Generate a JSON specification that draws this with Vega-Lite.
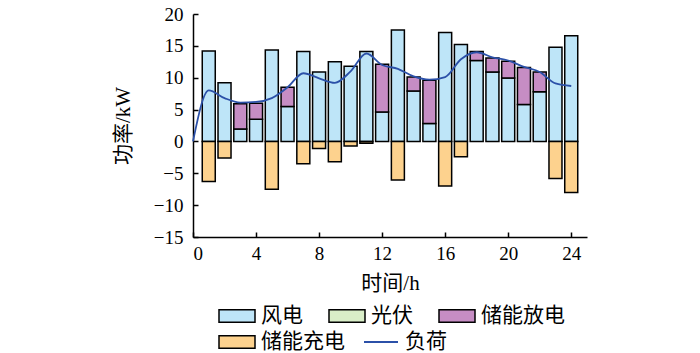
{
  "$schema": "https://vega.github.io/schema/vega-lite/v6.json",
  "autosize": "none",
  "width": 394,
  "height": 223,
  "padding": {"left": 193, "top": 14, "right": 113, "bottom": 116},
  "background": "white",
  "config": {
    "view": {"stroke": null},
    "font": "Liberation Serif, Noto Sans CJK SC",
    "axis": {
      "labelFont": "Liberation Serif",
      "labelFontSize": 19,
      "labelColor": "black",
      "labelOverlap": false,
      "titleFont": "Liberation Serif, Noto Sans CJK SC",
      "titleFontSize": 21,
      "titleFontWeight": "normal",
      "titleColor": "black",
      "domainColor": "black",
      "domainWidth": 1.5,
      "tickColor": "black",
      "tickWidth": 1.5,
      "grid": false
    },
    "legend": {
      "labelFont": "Liberation Serif, Noto Sans CJK SC",
      "labelFontSize": 21,
      "labelColor": "black",
      "title": null,
      "padding": 0,
      "labelLimit": 300
    }
  },
  "datasets": {
    "pos": [
      {"hour": 1, "type": "风电", "value": 14.2},
      {"hour": 2, "type": "风电", "value": 9.2},
      {"hour": 3, "type": "风电", "value": 1.95},
      {"hour": 3, "type": "储能放电", "value": 3.95},
      {"hour": 4, "type": "风电", "value": 3.5},
      {"hour": 4, "type": "储能放电", "value": 2.5},
      {"hour": 5, "type": "风电", "value": 14.35},
      {"hour": 6, "type": "风电", "value": 5.5},
      {"hour": 6, "type": "储能放电", "value": 3.0},
      {"hour": 7, "type": "风电", "value": 14.1},
      {"hour": 8, "type": "风电", "value": 10.9},
      {"hour": 9, "type": "风电", "value": 12.5},
      {"hour": 10, "type": "风电", "value": 11.8},
      {"hour": 11, "type": "风电", "value": 14.1},
      {"hour": 12, "type": "风电", "value": 4.6},
      {"hour": 12, "type": "储能放电", "value": 7.5},
      {"hour": 13, "type": "风电", "value": 17.5},
      {"hour": 14, "type": "风电", "value": 7.9},
      {"hour": 14, "type": "储能放电", "value": 2.2},
      {"hour": 15, "type": "风电", "value": 2.8},
      {"hour": 15, "type": "储能放电", "value": 6.8},
      {"hour": 16, "type": "风电", "value": 17.1},
      {"hour": 17, "type": "风电", "value": 15.2},
      {"hour": 18, "type": "风电", "value": 12.7},
      {"hour": 18, "type": "储能放电", "value": 1.4},
      {"hour": 19, "type": "风电", "value": 10.9},
      {"hour": 19, "type": "储能放电", "value": 2.2},
      {"hour": 20, "type": "风电", "value": 9.95},
      {"hour": 20, "type": "储能放电", "value": 2.65},
      {"hour": 21, "type": "风电", "value": 5.8},
      {"hour": 21, "type": "储能放电", "value": 5.8},
      {"hour": 22, "type": "风电", "value": 7.8},
      {"hour": 22, "type": "储能放电", "value": 3.1},
      {"hour": 23, "type": "风电", "value": 14.8},
      {"hour": 24, "type": "风电", "value": 16.6}
    ],
    "charge": [
      {"hour": 1, "type": "储能充电", "value": -6.3},
      {"hour": 2, "type": "储能充电", "value": -2.6},
      {"hour": 5, "type": "储能充电", "value": -7.5},
      {"hour": 7, "type": "储能充电", "value": -3.5},
      {"hour": 8, "type": "储能充电", "value": -1.1},
      {"hour": 9, "type": "储能充电", "value": -3.2},
      {"hour": 10, "type": "储能充电", "value": -0.7},
      {"hour": 11, "type": "储能充电", "value": -0.3},
      {"hour": 13, "type": "储能充电", "value": -6.05},
      {"hour": 16, "type": "储能充电", "value": -7.0},
      {"hour": 17, "type": "储能充电", "value": -2.4},
      {"hour": 23, "type": "储能充电", "value": -5.8},
      {"hour": 24, "type": "储能充电", "value": -8.0}
    ],
    "load": [
      {"hour": 0, "series": "负荷", "load": 0},
      {"hour": 1, "series": "负荷", "load": 8.0},
      {"hour": 2, "series": "负荷", "load": 6.8},
      {"hour": 3, "series": "负荷", "load": 6.1},
      {"hour": 4, "series": "负荷", "load": 6.2},
      {"hour": 5, "series": "负荷", "load": 6.8},
      {"hour": 6, "series": "负荷", "load": 8.5},
      {"hour": 7, "series": "负荷", "load": 10.7},
      {"hour": 8, "series": "负荷", "load": 9.9},
      {"hour": 9, "series": "负荷", "load": 9.2},
      {"hour": 10, "series": "负荷", "load": 11.0},
      {"hour": 11, "series": "负荷", "load": 13.8},
      {"hour": 12, "series": "负荷", "load": 12.0},
      {"hour": 13, "series": "负荷", "load": 11.4},
      {"hour": 14, "series": "负荷", "load": 10.2},
      {"hour": 15, "series": "负荷", "load": 9.7},
      {"hour": 16, "series": "负荷", "load": 10.1},
      {"hour": 17, "series": "负荷", "load": 12.9},
      {"hour": 18, "series": "负荷", "load": 14.0},
      {"hour": 19, "series": "负荷", "load": 13.2},
      {"hour": 20, "series": "负荷", "load": 12.7},
      {"hour": 21, "series": "负荷", "load": 11.7},
      {"hour": 22, "series": "负荷", "load": 10.9},
      {"hour": 23, "series": "负荷", "load": 9.1},
      {"hour": 24, "series": "负荷", "load": 8.7}
    ]
  },
  "layer": [
    {
      "data": {"name": "pos"},
      "transform": [
        {"calculate": "indexof(['风电','光伏','储能放电'], datum.type)", "as": "ord"}
      ],
      "mark": {"type": "bar", "width": 13, "stroke": "black", "strokeWidth": 1.5},
      "encoding": {
        "x": {
          "field": "hour", "type": "quantitative",
          "scale": {"domain": [0, 25], "nice": false, "padding": 0},
          "axis": {"values": [0, 4, 8, 12, 16, 20, 24], "tickCount": 20, "tickSize": -5, "labelPadding": 12, "title": "时间/h", "titlePadding": 9}
        },
        "y": {
          "field": "value", "type": "quantitative", "stack": true,
          "scale": {"domain": [-15, 20], "nice": false},
          "axis": {"values": [-15, -10, -5, 0, 5, 10, 15, 20], "tickCount": 20, "tickSize": -5, "labelPadding": 15, "title": "功率/kW", "titlePadding": 20}
        },
        "fill": {
          "field": "type", "type": "nominal",
          "scale": {"domain": ["风电", "光伏", "储能放电"], "range": ["#BEE5F8", "#D9EEC8", "#C68DC4"]},
          "legend": {
            "orient": "none", "legendX": 25, "legendY": 283,
            "direction": "horizontal",
            "columnPadding": 23,
            "symbolType": "M-1,-0.35L1,-0.35L1,0.35L-1,0.35Z",
            "symbolSize": 1296, "symbolStrokeColor": "black", "symbolStrokeWidth": 1.5,
            "labelOffset": 5
          }
        },
        "order": {"field": "ord"}
      }
    },
    {
      "data": {"name": "charge"},
      "mark": {"type": "bar", "width": 13, "stroke": "black", "strokeWidth": 1.5},
      "encoding": {
        "x": {"field": "hour", "type": "quantitative"},
        "y": {"field": "value", "type": "quantitative"},
        "color": {
          "field": "type", "type": "nominal",
          "scale": {"domain": ["储能充电"], "range": ["#FDD28E"]},
          "legend": {
            "orient": "none", "legendX": 25, "legendY": 309,
            "symbolType": "M-1,-0.35L1,-0.35L1,0.35L-1,0.35Z",
            "symbolSize": 1296, "symbolStrokeColor": "black", "symbolStrokeWidth": 1.5,
            "symbolFillColor": "#FDD28E",
            "labelOffset": 5
          }
        }
      }
    },
    {
      "mark": {"type": "rule", "color": "black", "strokeWidth": 1.5},
      "encoding": {"y": {"datum": 0}}
    },
    {
      "data": {"name": "load"},
      "mark": {"type": "line", "interpolate": "monotone", "strokeWidth": 1.8},
      "encoding": {
        "x": {"field": "hour", "type": "quantitative"},
        "y": {"field": "load", "type": "quantitative"},
        "stroke": {
          "field": "series", "type": "nominal",
          "scale": {"range": ["#2B50A8"]},
          "legend": {
            "orient": "none", "legendX": 170, "legendY": 310,
            "symbolType": "stroke", "symbolSize": 1156, "symbolStrokeWidth": 2,
            "labelOffset": 6
          }
        }
      }
    }
  ]
}
